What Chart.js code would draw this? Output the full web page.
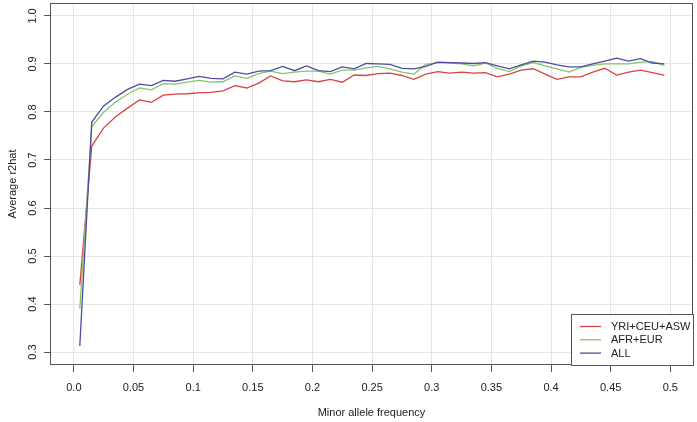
<!DOCTYPE html>
<html>
<head>
<script src="https://cdn.jsdelivr.net/npm/chart.js"></script>
<style>
  html, body { margin: 0; padding: 0; background: #fff; }
  #wrap { width: 697px; height: 422px; }
</style>
</head>
<body>
<div id="wrap"><canvas id="c" width="697" height="422"></canvas></div>
<script>
// minor allele frequency bins (bin centres)
const maf = [0.005, 0.015, 0.025, 0.035, 0.045, 0.055, 0.065, 0.075, 0.085, 0.095,
  0.105, 0.115, 0.125, 0.135, 0.145, 0.155, 0.165, 0.175, 0.185, 0.195,
  0.205, 0.215, 0.225, 0.235, 0.245, 0.255, 0.265, 0.275, 0.285, 0.295,
  0.305, 0.315, 0.325, 0.335, 0.345, 0.355, 0.365, 0.375, 0.385, 0.395,
  0.405, 0.415, 0.425, 0.435, 0.445, 0.455, 0.465, 0.475, 0.485, 0.495];

const yriCeuAsw = [0.44, 0.729, 0.767, 0.79, 0.808, 0.825, 0.82, 0.835, 0.837, 0.838,
  0.84, 0.841, 0.844, 0.855, 0.85, 0.86, 0.875, 0.865, 0.863, 0.867,
  0.863, 0.868, 0.862, 0.877, 0.876, 0.88, 0.881, 0.876, 0.868, 0.879,
  0.884, 0.881, 0.883, 0.881, 0.882, 0.873, 0.879, 0.887, 0.89, 0.879,
  0.868, 0.873, 0.873, 0.883, 0.891, 0.877, 0.883, 0.887, 0.882, 0.877];

const afrEur = [0.39, 0.769, 0.80, 0.821, 0.837, 0.85, 0.846, 0.859, 0.858, 0.862,
  0.866, 0.862, 0.863, 0.875, 0.87, 0.88, 0.885, 0.88, 0.883, 0.885,
  0.885, 0.879, 0.887, 0.887, 0.892, 0.895, 0.89, 0.883, 0.879, 0.899,
  0.903, 0.902, 0.90, 0.896, 0.902, 0.891, 0.884, 0.896, 0.903, 0.896,
  0.89, 0.883, 0.893, 0.897, 0.90, 0.90, 0.90, 0.904, 0.905, 0.897];

const all = [0.3125, 0.779, 0.8125, 0.831, 0.847, 0.858, 0.855, 0.866, 0.864, 0.869,
  0.874, 0.87, 0.869, 0.883, 0.879, 0.885, 0.886, 0.895, 0.886, 0.896,
  0.886, 0.884, 0.894, 0.89, 0.901, 0.90, 0.899, 0.891, 0.89, 0.895,
  0.904, 0.903, 0.902, 0.901, 0.903, 0.896, 0.89, 0.898, 0.906, 0.904,
  0.898, 0.894, 0.894, 0.90, 0.906, 0.912, 0.906, 0.911, 0.902, 0.90];

const xTicks = [0, 0.05, 0.1, 0.15, 0.2, 0.25, 0.3, 0.35, 0.4, 0.45, 0.5];
const xTickLabels = ['0.0', '0.05', '0.1', '0.15', '0.2', '0.25', '0.3', '0.35', '0.4', '0.45', '0.5'];
const yTicks = [0.3, 0.4, 0.5, 0.6, 0.7, 0.8, 0.9, 1.0];
const yTickLabels = ['0.3', '0.4', '0.5', '0.6', '0.7', '0.8', '0.9', '1.0'];

const FONT = '"Liberation Sans", Arial, sans-serif';
const INK = '#222';
const AXIS = '#555';
const GRID = '#e6e6e6';

const pts = ys => maf.map((x, i) => ({ x: x, y: ys[i] }));

// R-style box, rotated y labels, axis titles and legend
const rStyle = {
  id: 'rStyle',
  afterDraw(chart) {
    const { ctx, chartArea: a, scales } = chart;
    ctx.save();
    ctx.strokeStyle = AXIS;
    ctx.lineWidth = 1;
    ctx.strokeRect(a.left + 0.5, a.top + 0.5, a.right - a.left - 1, a.bottom - a.top - 1);

    // y tick labels, rotated like R
    ctx.fillStyle = INK;
    ctx.font = '11px ' + FONT;
    ctx.textAlign = 'center';
    ctx.textBaseline = 'middle';
    yTicks.forEach((v, i) => {
      const y = scales.y.getPixelForValue(v);
      ctx.save();
      ctx.translate(33, y);
      ctx.rotate(-Math.PI / 2);
      ctx.fillText(yTickLabels[i], 0, 0);
      ctx.restore();
    });

    // axis titles
    ctx.font = '11px ' + FONT;
    ctx.fillText('Minor allele frequency', (a.left + a.right) / 2, 413);
    ctx.save();
    ctx.translate(13, (a.top + a.bottom) / 2);
    ctx.rotate(-Math.PI / 2);
    ctx.fillText('Average r2hat', 0, 0);
    ctx.restore();

    // legend
    const lx = 571, ly = 314, lw = a.right - lx, lh = a.bottom - ly;
    ctx.fillStyle = '#fff';
    ctx.fillRect(lx, ly, lw, lh);
    ctx.strokeStyle = AXIS;
    ctx.strokeRect(lx + 0.5, ly + 0.5, lw, lh);
    ctx.textAlign = 'left';
    chart.data.datasets.forEach((ds, i) => {
      const yy = 326.5 + i * 13.3;
      ctx.strokeStyle = ds.borderColor;
      ctx.lineWidth = 1.3;
      ctx.beginPath();
      ctx.moveTo(580, yy);
      ctx.lineTo(601, yy);
      ctx.stroke();
      ctx.fillStyle = INK;
      ctx.fillText(ds.label, 611, yy + 0.5);
    });
    ctx.restore();
  }
};

new Chart(document.getElementById('c'), {
  type: 'line',
  data: {
    datasets: [
      { label: 'YRI+CEU+ASW', data: pts(yriCeuAsw), borderColor: '#d64545', order: 2 },
      { label: 'AFR+EUR', data: pts(afrEur), borderColor: '#84c66a', order: 1 },
      { label: 'ALL', data: pts(all), borderColor: '#4d4d9c', order: 0 }
    ]
  },
  options: {
    responsive: false,
    animation: false,
    devicePixelRatio: 1,
    layout: { padding: { top: 3, right: 4, left: 0, bottom: 0 } },
    elements: {
      point: { radius: 0 },
      line: { borderWidth: 1.3, tension: 0, fill: false }
    },
    plugins: { legend: { display: false }, tooltip: { enabled: false } },
    scales: {
      x: {
        type: 'linear',
        min: -0.02,
        max: 0.519,
        afterBuildTicks: s => { s.ticks = xTicks.map(v => ({ value: v })); },
        afterFit: s => { s.height = 57; },
        border: { display: false },
        grid: { color: GRID, tickColor: AXIS, tickLength: 7, lineWidth: 1 },
        ticks: {
          padding: 9,
          color: INK,
          font: { family: FONT, size: 11 },
          maxRotation: 0,
          callback: v => xTickLabels[xTicks.indexOf(v)]
        }
      },
      y: {
        type: 'linear',
        min: 0.273,
        max: 1.027,
        afterBuildTicks: s => { s.ticks = yTicks.map(v => ({ value: v })); },
        afterFit: s => { s.width = 50; },
        border: { display: false },
        grid: { color: GRID, tickColor: AXIS, tickLength: 6, lineWidth: 1 },
        ticks: { display: false }
      }
    }
  },
  plugins: [rStyle]
});
</script>
</body>
</html>
